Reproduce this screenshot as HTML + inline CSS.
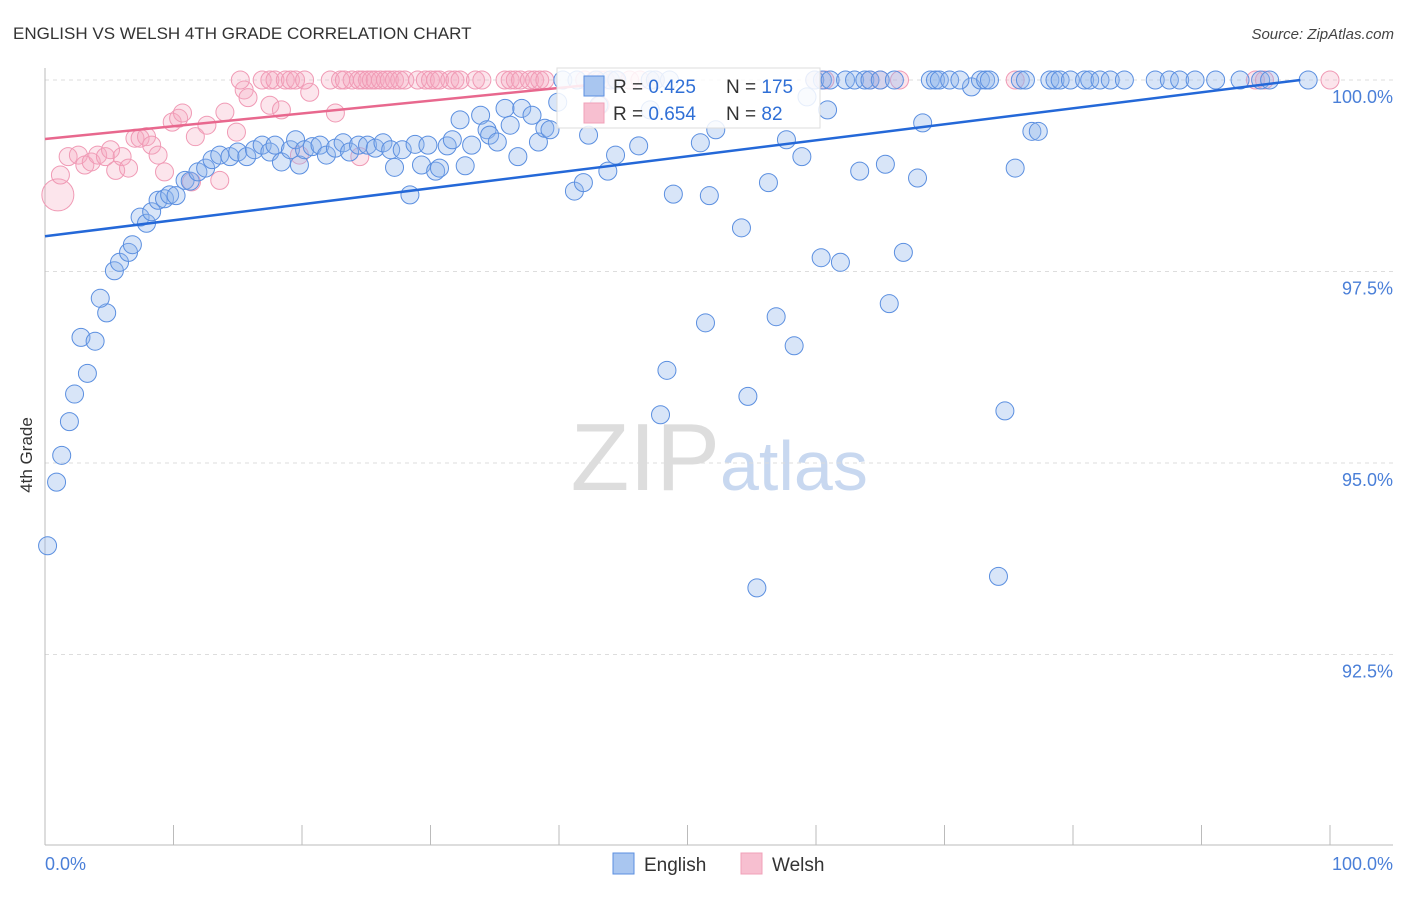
<!DOCTYPE html>
<html><head><meta charset="utf-8"><style>
body{margin:0;background:#fff;font-family:"Liberation Sans",sans-serif;}
svg text{font-family:"Liberation Sans",sans-serif;}
</style></head><body>
<svg width="1406" height="892" viewBox="0 0 1406 892">
<text x="13" y="39" font-size="17" fill="#333">ENGLISH VS WELSH 4TH GRADE CORRELATION CHART</text>
<text x="1394" y="39" font-size="15" fill="#444" text-anchor="end" font-style="italic">Source: ZipAtlas.com</text>
<text x="32" y="455" font-size="17" fill="#333" transform="rotate(-90 32 455)" text-anchor="middle">4th Grade</text>
<text x="720" y="490" font-size="96" fill="#ddd" text-anchor="end" font-family="Liberation Serif">ZIP</text>
<text x="720" y="490" font-size="70" fill="#c8d8f0">atlas</text>
<g id="grid"></g><g id="axes"></g><g id="pts"></g><g id="trend"></g>
<g>
<rect x="557" y="68" width="263" height="60" fill="#fff" fill-opacity="0.85" stroke="#ddd"/>
<rect x="584" y="76" width="20" height="20" fill="#a9c6f0" stroke="#5b8fe0"/>
<rect x="584" y="103" width="20" height="20" fill="#f7bfd0" stroke="#f0a0b8"/>
<text x="613" y="93" font-size="19" fill="#333">R = <tspan fill="#2f6fd6">0.425</tspan></text>
<text x="726" y="93" font-size="19" fill="#333">N = <tspan fill="#2f6fd6">175</tspan></text>
<text x="613" y="120" font-size="19" fill="#333">R = <tspan fill="#2f6fd6">0.654</tspan></text>
<text x="726" y="120" font-size="19" fill="#333">N = <tspan fill="#2f6fd6">  82</tspan></text>
</g>
<g>
<rect x="613" y="853" width="21" height="21" fill="#a9c6f0" stroke="#5b8fe0"/>
<text x="644" y="871" font-size="19" fill="#333">English</text>
<rect x="741" y="853" width="21" height="21" fill="#f7bfd0" stroke="#f0a0b8"/>
<text x="772" y="871" font-size="19" fill="#333">Welsh</text>
</g>
</svg>
<script>
const yTicks=[100,97.5,95,92.5];
const yTickLabels=["100.0%","97.5%","95.0%","92.5%"];
const xTicks=[0,10,20,30,40,50,60,70,80,90,100];
const xEndLabels=["0.0%","100.0%"];
const englishX=[0.2,0.9,1.3,1.9,2.3,3.3,2.8,3.9,4.8,4.3,5.4,5.8,6.5,6.8,7.4,7.9,8.3,8.8,9.3,9.7,10.2,10.9,11.3,11.9,12.5,13.0,13.6,14.4,15.0,15.7,16.3,16.9,17.5,17.9,18.4,19.1,19.5,19.8,20.2,20.8,21.4,21.9,22.6,23.2,23.7,24.4,25.1,25.7,26.3,26.9,27.2,27.8,28.4,28.8,29.3,29.8,30.4,30.7,31.3,31.7,32.3,32.7,33.2,33.9,34.4,34.6,35.2,35.8,36.2,36.8,37.1,37.9,38.4,38.9,39.3,39.9,41.2,41.9,42.3,43.1,43.8,44.4,46.2,47.1,47.9,48.4,48.9,51.0,51.4,51.7,52.2,54.2,54.7,55.4,56.3,56.9,57.7,58.3,58.9,59.3,60.4,60.9,61.9,63.4,65.4,65.7,66.8,67.9,68.3,72.1,74.2,74.7,75.5,76.8,77.3,
40.3,41.4,42.9,44.0,44.5,47.1,47.5,48.6,59.9,60.5,61.1,62.3,63.0,63.8,64.2,65.0,66.1,68.9,69.3,69.6,70.4,71.2,72.8,73.2,73.5,75.9,76.3,78.2,78.6,79.0,79.8,80.9,81.3,82.1,82.9,84.0,86.4,87.5,88.3,89.5,91.1,93.0,94.6,95.3,98.3];
const englishY=[93.92,94.75,95.10,95.54,95.90,96.17,96.64,96.59,96.96,97.15,97.51,97.62,97.75,97.85,98.21,98.13,98.28,98.43,98.45,98.50,98.49,98.69,98.68,98.80,98.85,98.96,99.02,99.00,99.06,99.00,99.09,99.15,99.06,99.15,98.93,99.09,99.22,98.89,99.09,99.13,99.15,99.02,99.11,99.18,99.06,99.15,99.15,99.11,99.18,99.09,98.86,99.09,98.50,99.16,98.89,99.15,98.81,98.85,99.14,99.22,99.48,98.88,99.15,99.54,99.35,99.28,99.19,99.63,99.41,99.00,99.63,99.54,99.19,99.37,99.35,99.71,98.55,98.66,99.28,99.67,98.81,99.02,99.14,99.61,95.63,96.21,98.51,99.18,96.83,98.49,99.35,98.07,95.87,93.37,98.66,96.91,99.22,96.53,99.00,99.78,97.68,99.61,97.62,98.81,98.90,97.08,97.75,98.72,99.44,99.91,93.52,95.68,98.85,99.33,99.33,
100,100,100,100,100,100,100,100,100,100,100,100,100,100,100,100,100,100,100,100,100,100,100,100,100,100,100,100,100,100,100,100,100,100,100,100,100,100,100,100,100,100,100,100,100];
const welshX=[1.0,1.2,1.8,2.6,3.1,3.6,4.1,4.7,5.1,5.5,6.0,6.5,7.0,7.4,7.9,8.3,8.8,9.3,9.9,10.4,10.7,11.4,11.7,12.6,13.6,14.0,14.9,15.5,15.8,17.5,18.4,19.8,20.6,22.6,24.5,43.2,
15.2,16.9,17.5,17.9,18.7,19.1,19.5,20.2,22.2,23.0,23.3,23.9,24.4,24.7,25.1,25.4,25.7,26.1,26.5,26.8,27.2,27.6,28.0,29.0,29.6,30.0,30.4,30.7,31.5,31.9,32.3,33.5,34.0,35.8,36.2,36.6,37.0,37.7,38.1,38.5,38.9,42.0,42.8,43.2,43.6,44.4,45.5,46.3,47.5,59.9,60.7,64.2,65.0,66.5,75.5,94.2,94.9,100];
const welshY=[98.50,98.76,99.00,99.02,98.89,98.93,99.02,99.00,99.09,98.82,99.00,98.85,99.24,99.24,99.26,99.15,99.02,98.80,99.45,99.50,99.57,98.67,99.26,99.41,98.69,99.58,99.32,99.87,99.77,99.67,99.61,99.02,99.84,99.57,99.00,99.67,
100,100,100,100,100,100,100,100,100,100,100,100,100,100,100,100,100,100,100,100,100,100,100,100,100,100,100,100,100,100,100,100,100,100,100,100,100,100,100,100,100,100,100,100,100,100,100,100,100,100,100,100,100,100,100,100,100,100];
const englishTrend=[97.96,100.0];const englishTrendX=[0,97.7];
const welshTrend=[99.23,99.95];const welshTrendX=[0,43.2];
const NS='http://www.w3.org/2000/svg';
const X=v=>45+v*12.85, Y=v=>80+(100-v)*76.6;
function mk(t,a,p){const e=document.createElementNS(NS,t);for(const k in a)e.setAttribute(k,a[k]);p.appendChild(e);return e;}
const grid=document.getElementById('grid'),axes=document.getElementById('axes'),pts=document.getElementById('pts'),tr=document.getElementById('trend');
yTicks.forEach((t,i)=>{const l=mk('line',{x1:45,x2:1393,y1:Y(t),y2:Y(t),stroke:'#ddd','stroke-dasharray':'4 4'},grid);


const tx=mk('text',{x:1393,y:Y(t)+23,'font-size':18,fill:'#4a7fd8','text-anchor':'end'},axes);tx.textContent=yTickLabels[i];

});
const ax=mk('line',{x1:45,x2:1393,y1:845,y2:845,stroke:'#bbb'},axes);


const ay=mk('line',{x1:45,x2:45,y1:68,y2:845,stroke:'#bbb'},axes);


xTicks.forEach(t=>{const l=mk('line',{x1:X(t),x2:X(t),y1:825,y2:845,stroke:'#bbb'},axes);

});
const xl0=mk('text',{x:45,y:870,'font-size':18,fill:'#4a7fd8'},axes);xl0.textContent=xEndLabels[0];


const xl1=mk('text',{x:1393,y:870,'font-size':18,fill:'#4a7fd8','text-anchor':'end'},axes);xl1.textContent=xEndLabels[1];


welshX.forEach((x,i)=>{const c=mk('circle',{cx:X(x),cy:Y(welshY[i]),r:i==0?16:9,fill:'#f5a8c0','fill-opacity':0.3,stroke:'#f09ab5','stroke-width':1},pts);

});
englishX.forEach((x,i)=>{const c=mk('circle',{cx:X(x),cy:Y(englishY[i]),r:9,fill:'#8fb5ec','fill-opacity':0.35,stroke:'#5b8fe0','stroke-width':1},pts);

});
const t1=mk('line',{x1:X(englishTrendX[0]),y1:Y(englishTrend[0]),x2:X(englishTrendX[1]),y2:Y(englishTrend[1]),stroke:'#2468d8','stroke-width':2.5},tr);


const t2=mk('line',{x1:X(welshTrendX[0]),y1:Y(welshTrend[0]),x2:X(welshTrendX[1]),y2:Y(welshTrend[1]),stroke:'#e8688e','stroke-width':2.5},tr);


</script>
</body></html>
